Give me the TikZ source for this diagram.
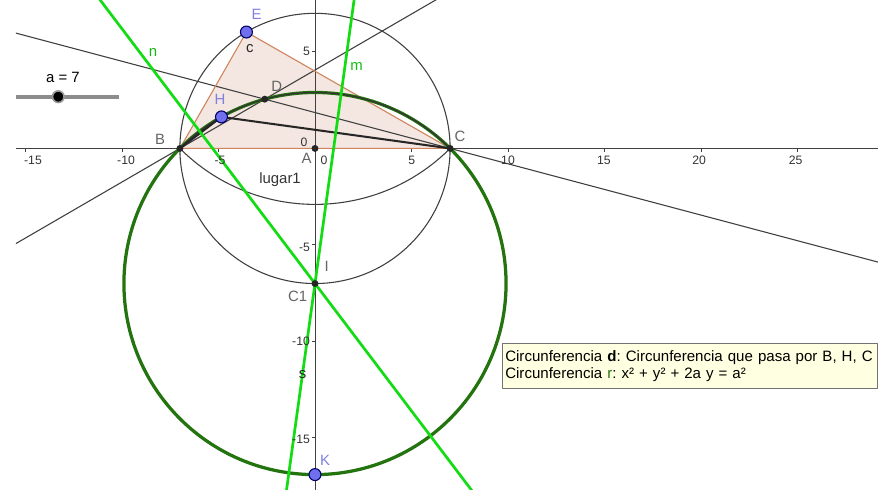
\documentclass[tikz,border=0pt]{standalone}
\usepackage{fontspec}
\setmainfont{Liberation Sans}
\usetikzlibrary{calc}
\frenchspacing

\definecolor{ggpt}{RGB}{112,112,238}
\definecolor{ggfree}{RGB}{128,128,224}
\definecolor{gglab}{RGB}{100,100,100}
\definecolor{gggreen}{RGB}{20,220,20}
\definecolor{ggdark}{RGB}{35,115,15}
\definecolor{ggedge}{RGB}{206,132,92}
\definecolor{ggfill}{RGB}{244,230,224}
\definecolor{ggnote}{RGB}{255,255,225}

\tikzset{
  axisline/.style={draw=black!75, line width=0.7pt},
  thinline/.style={draw=black!75, line width=0.8pt},
  greenline/.style={draw=gggreen, line width=2pt},
  freept/.style={circle, fill=ggpt, draw=black!60!blue, line width=0.8pt, inner sep=0pt, minimum size=0.31cm},
  fixpt/.style={circle, fill=black!85, inner sep=0pt, minimum size=0.18cm},
  ptlab/.style={font=\fontsize{11}{13}\selectfont, inner sep=0pt},
  numlab/.style={font=\fontsize{9}{11}\selectfont, text=black!80, inner sep=0pt},
  notebox/.style={draw=black!55, fill=ggnote, line width=0.8pt, align=left,
    font=\fontsize{11.1}{12.9}\selectfont, inner xsep=2pt, inner ysep=2.5pt,
    text width=9.715cm-4pt, minimum height=1.165cm, anchor=north west}
}

\begin{document}
\begin{tikzpicture}[x=0.5cm, y=0.5cm, line join=round]
  \useasboundingbox (-16.32,-17.69) rectangle (29.17,7.69);
  % points
  \coordinate (A) at (0,0);
  \coordinate (B) at (-7,0);
  \coordinate (C) at (7,0);
  \coordinate (E) at (120.5:7);
  \coordinate (C1) at (0,-7);
  \coordinate (H) at ($(C1)+(119.3:9.8995)$);
  \coordinate (D) at (-2.6035,2.551);
  \coordinate (K) at (0,-16.8995);
  \coordinate (Mbh) at ($(B)!0.5!(H)$);
  \coordinate (Mhc) at ($(H)!0.5!(C)$);
  \coordinate (xL) at (-15.5,0);
  \coordinate (xR) at (29.17,0);
  \coordinate (yT) at (0,7.69);
  \coordinate (yB) at (0,-17.69);
  \begin{scope}
    \clip (-15.5,-17.69) rectangle (29.17,7.69);
    % triangle
    \fill[ggfill] (B) -- (C) -- (E) -- cycle;
    % axes
    \draw[axisline] (xL) -- (xR);
    \draw[axisline] (yT) -- (yB);
    \foreach \x in {-15,-10,-5,5,10,15,20,25}
      \draw[axisline] (\x,0) -- (\x,-0.17);
    \foreach \y in {5,-5,-10,-15}
      \draw[axisline] (0,\y) -- (-0.17,\y);
    % circle through B, C and lugar1
    \draw[thinline] (A) circle (7);
    \draw[thinline] (B) arc[start angle=225, end angle=315, radius=9.8995];
    % bisectors through D
    \draw[thinline] ($(B)!-3!(D)$) -- ($(B)!4!(D)$);
    \draw[thinline] ($(C)!-3!(D)$) -- ($(C)!3.5!(D)$);
    % triangle sides
    \draw[ggedge, line width=0.8pt] (B) -- (C) -- (E) -- cycle;
    % circle d
    \draw[ggdark, line width=2.4pt] (C1) circle (9.8995);
    \draw[black!80, line width=0.9pt] (B) arc[start angle=135, end angle=45, radius=9.8995];
    \draw[black!85, line width=1.5pt] (B) -- (H) -- (C);
    % perpendicular bisectors n, m
    \draw[greenline] ($(C1)!-3!(Mbh)$) -- ($(C1)!3!(Mbh)$);
    \draw[greenline] ($(C1)!-3!(Mhc)$) -- ($(C1)!3!(Mhc)$);
  \end{scope}
  % markers
  \foreach \p in {A,B,C,D,C1}
    \node[fixpt] (\p dot) at (\p) {};
  \foreach \p in {E,H,K}
    \node[freept] (\p dot) at (\p) {};
  % labels
  \node[ptlab, text=ggfree] (Elab) at (-3.02,6.92) {E};
  \node[ptlab, text=ggfree] (Hlab) at (-4.92,2.56) {H};
  \node[ptlab, text=ggfree] (Klab) at (0.52,-16.18) {K};
  \node[ptlab, text=gglab] (Blab) at (-8.03,0.49) {B};
  \node[ptlab, text=gglab] (Clab) at (7.51,0.60) {C};
  \node[ptlab, text=gglab] (Alab) at (-0.43,-0.51) {A};
  \node[ptlab, text=gglab] (Dlab) at (-1.98,3.20) {D};
  \node[ptlab, text=gglab] (Ilab) at (0.61,-6.12) {I};
  \node[ptlab, text=gglab] (C1lab) at (-0.90,-7.68) {C1};
  \node[ptlab, text=black!85] (clab) at (-3.37,5.16) {c};
  \node[ptlab, text=black!85] (slab) at (-0.64,-11.74) {s};
  \node[ptlab, text=gggreen!85!black] (nlab) at (-8.39,4.95) {n};
  \node[ptlab, text=gggreen!85!black] (mlab) at (2.16,4.27) {m};
  \node[ptlab, text=black!80] (lugar) at (-1.81,-1.63) {lugar1};
  % axis numbers
  \foreach \x/\p in {-15/-14.61,-10/-9.79,-5/-4.92,5/5.02,10/10,15/14.97,20/19.9,25/24.9}
    \node[numlab] (xl\x) at (\p,-0.6) {\x};
  \node[numlab] (xl0) at (0.47,-0.6) {0};
  \node[numlab] (yl0) at (-0.57,0.34) {0};
  \foreach \y/\q in {5/5.05,-5/-5.12,-10/-10.01,-15/-15.05}
    \node[numlab, anchor=east] (yl\y) at (-0.25,\q) {\y};
  % slider a
  \coordinate (slL) at (-15.49,2.68);
  \coordinate (slR) at (-10.16,2.68);
  \draw[black!45, line width=3pt] (slL) -- (slR);
  \node[circle, fill=black, draw=black!40, line width=1.2pt, inner sep=0pt, minimum size=0.3cm] (knob) at (-13.3,2.68) {};
  \node[ptlab] (alab) at (-13.06,3.70) {a = 7};
  % note
  \node[notebox] (note) at (9.69,-10.08) {Circunferencia \textbf{d}: Circunferencia que pasa por B, H, C\\
    Circunferencia \textcolor{ggdark}{r}: x² + y² + 2a y = a²};
\end{tikzpicture}
\end{document}
